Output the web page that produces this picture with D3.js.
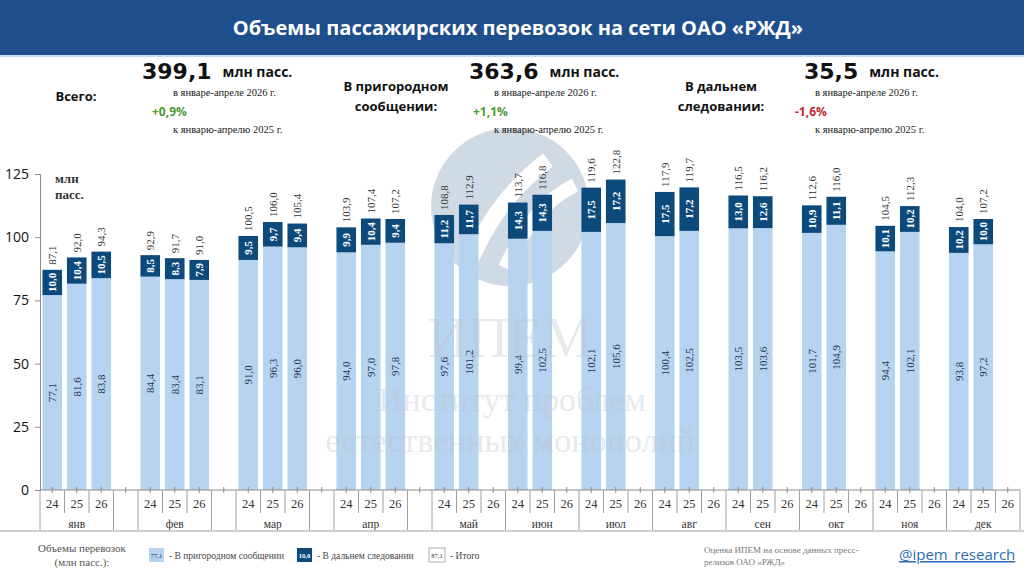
<!DOCTYPE html>
<html>
<head>
<meta charset="utf-8">
<title>Объемы пассажирских перевозок</title>
<script src="https://cdn.jsdelivr.net/npm/d3@7/dist/d3.min.js"></script>
<style>
  body { margin: 0; background: #fff; }
  svg { display: block; }
</style>
</head>
<body>
<svg width="1024" height="576" id="mainsvg"></svg>
<script>
// months and years of the x axis
const months = ['янв', 'фев', 'мар', 'апр', 'май', 'июн', 'июл', 'авг', 'сен', 'окт', 'ноя', 'дек'];
const years = ['24', '25', '26'];
const yTicks = [0, 25, 50, 75, 100, 125];

// suburban (light) by year, million passengers
const suburban24 = [77.1, 84.4, 91.0, 94.0, 97.6, 99.4, 102.1, 100.4, 103.5, 101.7, 94.4, 93.8];
const suburban25 = [81.6, 83.4, 96.3, 97.0, 101.2, 102.5, 105.6, 102.5, 103.6, 104.9, 102.1, 97.2];
const suburban26 = [83.8, 83.1, 96.0, 97.8];
// long distance (dark)
const longDist24 = [10.0, 8.5, 9.5, 9.9, 11.2, 14.3, 17.5, 17.5, 13.0, 10.9, 10.1, 10.2];
const longDist25 = [10.4, 8.3, 9.7, 10.4, 11.7, 14.3, 17.2, 17.2, 12.6, 11.1, 10.2, 10.0];
const longDist26 = [10.5, 7.9, 9.4, 9.4];
// totals as printed
const total24 = [87.1, 92.9, 100.5, 103.9, 108.8, 113.7, 119.6, 117.9, 116.5, 112.6, 104.5, 104.0];
const total25 = [92.0, 91.7, 106.0, 107.4, 112.9, 116.8, 122.8, 119.7, 116.2, 116.0, 112.3, 107.2];
const total26 = [94.3, 91.0, 105.4, 107.2];

const suburban = [suburban24, suburban25, suburban26];
const longDist = [longDist24, longDist25, longDist26];
const totals = [total24, total25, total26];

const fmt = v => v.toFixed(1).replace('.', ',');

const svg = d3.select('#mainsvg');
const width = +svg.attr('width');

const C_HEAD = '#1f4e8d';
const C_LIGHT = '#b6d3ef';
const C_DARK = '#0c4a7c';
const SERIF = 'Liberation Serif, serif';
const SANS = 'Open Sans, DejaVu Sans, sans-serif';

// ---- header band
svg.append('rect').attr('x', 0).attr('y', 0).attr('width', width).attr('height', 55).attr('fill', C_HEAD);
svg.append('rect').attr('x', 0).attr('y', 55).attr('width', width).attr('height', 2).attr('fill', '#c9dbef');
svg.append('text').text('Объемы пассажирских перевозок на сети ОАО «РЖД»')
  .attr('x', 518).attr('y', 35).attr('text-anchor', 'middle')
  .attr('fill', '#fff').attr('font-family', SANS).attr('font-weight', 700).attr('font-size', 20);

// ---- watermark circle (behind the bars)
const wm = svg.append('g');
wm.append('clipPath').attr('id', 'circClip').append('circle').attr('cx', 510).attr('cy', 207).attr('r', 79);
wm.append('circle').attr('cx', 510).attr('cy', 207).attr('r', 79).attr('fill', '#d0dae5');
const sw = wm.append('g').attr('clip-path', 'url(#circClip)');
sw.append('path').attr('d', 'M470,262 C490,215 515,185 548,160').attr('stroke', '#fff').attr('stroke-width', 16).attr('fill', 'none');
sw.append('path').attr('d', 'M505,268 C525,225 545,200 575,185').attr('stroke', '#fff').attr('stroke-width', 14).attr('fill', 'none');

// ---- stats block
const stats = [
  {label: ['Всего:'], lx: 76, ly: [101], num: '399,1', nx: 142, pct: '+0,9%', px: 152, color: '#4e9a2f', tx: 173},
  {label: ['В пригородном', 'сообщении:'], lx: 396, ly: [91, 111], num: '363,6', nx: 469, pct: '+1,1%', px: 473, color: '#4e9a2f', tx: 494},
  {label: ['В дальнем', 'следовании:'], lx: 721, ly: [91, 111], num: '35,5', nx: 804, pct: '-1,6%', px: 795, color: '#c0262d', tx: 815}
];
stats.forEach(s => {
  s.label.forEach((t, i) => {
    svg.append('text').text(t).attr('x', s.lx).attr('y', s.ly[i]).attr('text-anchor', 'middle')
      .attr('font-family', SANS).attr('font-weight', 700).attr('font-size', 13).attr('fill', '#111');
  });
  const num = svg.append('text').text(s.num).attr('x', s.nx).attr('y', 79)
    .attr('font-family', 'DejaVu Sans, sans-serif').attr('font-weight', 700).attr('font-size', 22).attr('fill', '#111');
  const nw = num.node().getComputedTextLength();
  svg.append('text').text('млн пасс.').attr('x', s.nx + nw + 11).attr('y', 77)
    .attr('font-family', SANS).attr('font-weight', 700).attr('font-size', 14).attr('fill', '#111');
  svg.append('text').text('в январе-апреле 2026 г.').attr('x', s.tx).attr('y', 96)
    .attr('font-family', SERIF).attr('font-size', 10.5).attr('fill', '#222');
  svg.append('text').text(s.pct).attr('x', s.px).attr('y', 116)
    .attr('font-family', SANS).attr('font-weight', 700).attr('font-size', 12).attr('fill', s.color);
  svg.append('text').text('к январю-апрелю 2025 г.').attr('x', s.tx).attr('y', 133)
    .attr('font-family', SERIF).attr('font-size', 10.5).attr('fill', '#222');
});

// ---- scales
const slots = [];
months.forEach((m, mi) => {
  years.forEach(y => slots.push(m + '-' + y));
  if (mi < 4) slots.push(m + '-gap');
});
const x = d3.scaleBand().domain(slots).range([40, 1020]).paddingInner(0.2).paddingOuter(0.1);
const y = d3.scaleLinear().domain([0, 125]).range([490, 174]);
const step = x.step();
const slotLeft = k => x(k) - x.paddingOuter() * step;

// ---- y axis
const yAxis = d3.axisLeft(y).tickValues(yTicks).tickSize(5).tickPadding(6);
const yg = svg.append('g').attr('transform', 'translate(40,0)').call(yAxis);
yg.select('.domain').attr('stroke', '#8c8c8c');
yg.selectAll('.tick line').attr('stroke', '#8c8c8c');
yg.selectAll('.tick text').attr('font-family', SANS).attr('font-size', 14).attr('fill', '#111');
svg.append('text').text('млн').attr('x', 55).attr('y', 183)
  .attr('font-family', SERIF).attr('font-weight', 700).attr('font-size', 13).attr('fill', '#333');
svg.append('text').text('пасс.').attr('x', 55).attr('y', 199)
  .attr('font-family', SERIF).attr('font-weight', 700).attr('font-size', 13).attr('fill', '#333');

// ---- bars
const rows = [];
months.forEach((m, mi) => {
  years.forEach((yr, yi) => {
    if (suburban[yi][mi] === undefined) return;
    rows.push({key: m + '-' + yr, sub: suburban[yi][mi], lng: longDist[yi][mi], tot: totals[yi][mi]});
  });
});

const bars = svg.append('g').selectAll('g').data(rows).join('g');
bars.append('rect').attr('x', d => x(d.key)).attr('width', x.bandwidth())
  .attr('y', d => y(d.sub)).attr('height', d => y(0) - y(d.sub)).attr('fill', C_LIGHT);
bars.append('rect').attr('x', d => x(d.key)).attr('width', x.bandwidth())
  .attr('y', d => y(d.sub + d.lng)).attr('height', d => y(d.sub) - y(d.sub + d.lng)).attr('fill', C_DARK);

const cx = d => x(d.key) + x.bandwidth() / 2;
bars.append('text').text(d => fmt(d.sub))
  .attr('transform', d => `translate(${cx(d) + 4},${(y(0) + y(d.sub)) / 2}) rotate(-90)`)
  .attr('text-anchor', 'middle').attr('font-family', SERIF).attr('font-size', 11).attr('fill', '#1b3552');
bars.append('text').text(d => fmt(d.lng))
  .attr('transform', d => `translate(${cx(d) + 4},${(y(d.sub) + y(d.sub + d.lng)) / 2}) rotate(-90)`)
  .attr('text-anchor', 'middle').attr('font-family', SERIF).attr('font-weight', 700).attr('font-size', 11).attr('fill', '#fff');
bars.append('text').text(d => fmt(d.tot))
  .attr('transform', d => `translate(${cx(d) + 4},${y(d.sub + d.lng) - 5}) rotate(-90)`)
  .attr('text-anchor', 'start').attr('font-family', SERIF).attr('font-size', 11).attr('fill', '#333');

// ---- watermark text (over the bars, faint)
const wt = svg.append('g').attr('fill', '#bcc4cd').attr('opacity', 0.35).attr('font-family', SERIF).attr('text-anchor', 'middle');
wt.append('text').text('ИПЕМ').attr('x', 510).attr('y', 357).attr('font-size', 56);
wt.append('text').text('Институт проблем').attr('x', 512).attr('y', 411).attr('font-size', 34);
wt.append('text').text('естественных монополий').attr('x', 510).attr('y', 452).attr('font-size', 34);

// ---- x axis (two levels)
const xg = svg.append('g');
xg.append('line').attr('x1', 40).attr('x2', 1020).attr('y1', 490).attr('y2', 490).attr('stroke', '#8c8c8c');
xg.selectAll('.tk').data(slots).join('line')
  .attr('x1', d => x(d) + x.bandwidth() / 2).attr('x2', d => x(d) + x.bandwidth() / 2)
  .attr('y1', 487).attr('y2', 493).attr('stroke', '#8c8c8c');
// year separators and labels
const yearSlots = slots.filter(k => !k.endsWith('gap'));
xg.selectAll('.ysep').data(yearSlots.filter(k => !k.endsWith('-24'))).join('line')
  .attr('x1', d => slotLeft(d)).attr('x2', d => slotLeft(d))
  .attr('y1', 490).attr('y2', 513).attr('stroke', '#a0a0a0');
xg.selectAll('.ylab').data(yearSlots).join('text')
  .text(d => d.split('-')[1])
  .attr('x', d => x(d) + x.bandwidth() / 2).attr('y', 508).attr('text-anchor', 'middle')
  .attr('font-family', SERIF).attr('font-size', 12.5).attr('fill', '#333');
// month groups
const groupStarts = slots.filter(k => k.endsWith('-24') || k.endsWith('gap'));
xg.selectAll('.msep').data(groupStarts.concat(['end'])).join('line')
  .attr('x1', d => d === 'end' ? 1020 : slotLeft(d)).attr('x2', d => d === 'end' ? 1020 : slotLeft(d))
  .attr('y1', 490).attr('y2', 531).attr('stroke', '#a0a0a0');
xg.selectAll('.mlab').data(months).join('text').text(d => d)
  .attr('x', d => (slotLeft(d + '-24') + slotLeft(d + '-26') + step) / 2).attr('y', 528)
  .attr('text-anchor', 'middle').attr('font-family', SERIF).attr('font-size', 11.5).attr('fill', '#333');

// separator line above the footer
svg.append('rect').attr('x', 0).attr('y', 530).attr('width', width).attr('height', 2).attr('fill', '#cfcfcf');

// ---- legend / footer
const ft = svg.append('g').attr('font-family', SERIF);
ft.append('text').text('Объемы перевозок').attr('x', 82).attr('y', 552).attr('text-anchor', 'middle').attr('font-size', 11).attr('fill', '#555');
ft.append('text').text('(млн пасс.):').attr('x', 82).attr('y', 566).attr('text-anchor', 'middle').attr('font-size', 11).attr('fill', '#555');

const legend = [
  {box: '77,1', fill: C_LIGHT, stroke: 'none', color: '#1b3552', bold: false, x: 149, w: 15, label: '- В пригородном сообщении'},
  {box: '10,0', fill: C_DARK, stroke: 'none', color: '#fff', bold: true, x: 297, w: 15, label: '- В дальнем следовании'},
  {box: '87,1', fill: '#fff', stroke: '#999', color: '#333', bold: false, x: 429, w: 16, label: '- Итого'}
];
legend.forEach(l => {
  ft.append('rect').attr('x', l.x).attr('y', 548).attr('width', l.w).attr('height', 14)
    .attr('fill', l.fill).attr('stroke', l.stroke).attr('stroke-width', 0.8);
  ft.append('text').text(l.box).attr('x', l.x + l.w / 2).attr('y', 558).attr('text-anchor', 'middle')
    .attr('font-size', 6.5).attr('font-weight', l.bold ? 700 : 400).attr('fill', l.color);
  ft.append('text').text(l.label).attr('x', l.x + l.w + 5).attr('y', 559)
    .attr('font-size', 9.5).attr('fill', '#444');
});

ft.append('text').text('Оценка ИПЕМ на основе данных пресс-').attr('x', 704).attr('y', 553).attr('font-size', 9).attr('fill', '#777');
ft.append('text').text('релизов ОАО «РЖД»').attr('x', 704).attr('y', 565).attr('font-size', 9).attr('fill', '#777');
svg.append('text').text('@ipem_research').attr('x', 899).attr('y', 560)
  .attr('font-family', SANS).attr('font-size', 15).attr('fill', '#2f6db3').attr('text-decoration', 'underline');
</script>
</body>
</html>
